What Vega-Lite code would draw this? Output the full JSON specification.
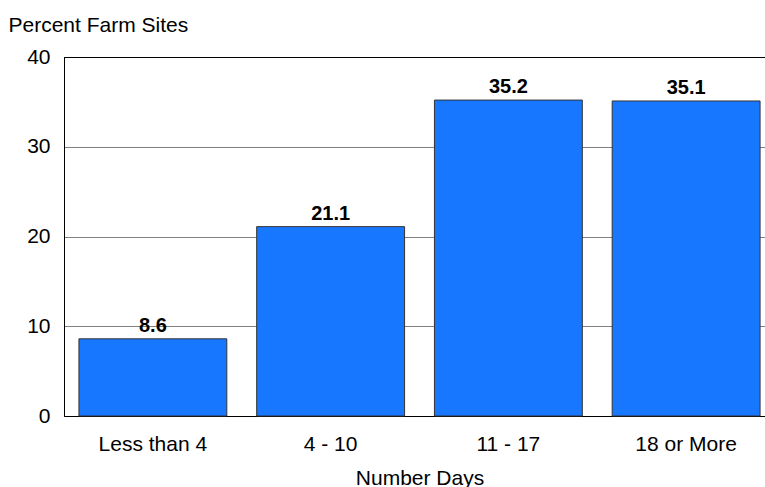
{
  "$schema": "https://vega.github.io/schema/vega-lite/v6.json",
  "width": 701,
  "height": 359,
  "autosize": "none",
  "padding": {"left": 64, "top": 57, "right": 0, "bottom": 71},
  "background": "white",
  "config": {
    "font": "Liberation Sans",
    "view": {"stroke": "black", "strokeWidth": 1}
  },
  "data": {
    "values": [
      {"days": "Less than 4", "percent": 8.6},
      {"days": "4 - 10", "percent": 21.1},
      {"days": "11 - 17", "percent": 35.2},
      {"days": "18 or More", "percent": 35.1}
    ]
  },
  "encoding": {
    "x": {
      "field": "days",
      "type": "nominal",
      "sort": null,
      "scale": {"range": [0, 711], "paddingInner": 0.168, "paddingOuter": 0.084},
      "axis": {
        "title": "Number Days",
        "labelAngle": 0,
        "ticks": false,
        "labelPadding": 17,
        "labelFontSize": 21,
        "labelColor": "black",
        "titleFontSize": 21,
        "titleFontWeight": "normal",
        "titleColor": "black",
        "titlePadding": 13,
        "domainColor": "black",
        "grid": false
      }
    },
    "y": {
      "field": "percent",
      "type": "quantitative",
      "scale": {"domain": [0, 40]},
      "axis": {
        "title": "Percent Farm Sites",
        "titleAngle": 0,
        "titleAlign": "left",
        "titleBaseline": "alphabetic",
        "titleX": -56,
        "titleY": -26,
        "titleFontSize": 21,
        "titleFontWeight": "normal",
        "titleColor": "black",
        "values": [0, 10, 20, 30, 40],
        "ticks": false,
        "labelPadding": 14,
        "labelFontSize": 21,
        "labelColor": "black",
        "domainColor": "black",
        "gridColor": {"condition": {"test": "datum.value === 40", "value": "black"}, "value": "#808080"},
        "gridOpacity": 1
      }
    }
  },
  "layer": [
    {"mark": {"type": "bar", "color": "#1877ff", "stroke": "#333333", "strokeWidth": 1}},
    {
      "mark": {"type": "text", "fontWeight": "bold", "fontSize": 20, "dy": -7, "baseline": "alphabetic", "color": "black"},
      "encoding": {"text": {"field": "percent", "type": "quantitative", "format": ".1f"}}
    }
  ]
}
